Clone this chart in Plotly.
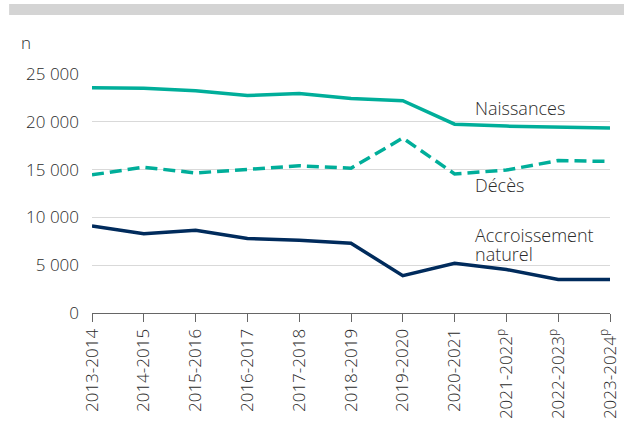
import plotly.graph_objects as go

periods = ["2013-2014", "2014-2015", "2015-2016", "2016-2017", "2017-2018",
           "2018-2019", "2019-2020", "2020-2021", "2021-2022<sup>p</sup>",
           "2022-2023<sup>p</sup>", "2023-2024<sup>p</sup>"]
naissances = [23550, 23500, 23250, 22750, 22950, 22450, 22200, 19750, 19550, 19450, 19350]
deces = [14450, 15250, 14650, 15000, 15400, 15150, 18300, 14550, 14950, 15950, 15850]
accroissement = [9100, 8300, 8650, 7800, 7600, 7300, 3900, 5200, 4550, 3500, 3500]

teal = "#00AE9A"
navy = "#002B5C"
font = "Open Sans"
text_color = "#2b2b2b"
fsize = 17

fig = go.Figure()
fig.add_trace(go.Scatter(x=periods, y=naissances, mode="lines",
                         line=dict(color=teal, width=3.5), name="Naissances"))
fig.add_trace(go.Scatter(x=periods, y=deces, mode="lines",
                         line=dict(color=teal, width=3.5, dash="12px,6px"), name="Décès"))
fig.add_trace(go.Scatter(x=periods, y=accroissement, mode="lines",
                         line=dict(color=navy, width=3.5), name="Accroissement naturel"))

# grey band at the top
fig.add_shape(type="rect", xref="paper", yref="paper",
              x0=-0.16, x1=1.03, y0=1.247, y1=1.293,
              fillcolor="#d4d4d4", line_width=0, layer="below")

fig.add_annotation(text="n", xref="paper", yref="paper", x=-0.128, y=1.13,
                   xanchor="center", yanchor="middle", showarrow=False,
                   font=dict(size=fsize, color=text_color, family=font, weight=300))

labels = [("Naissances", 0.7355, 0.858), ("Décès", 0.7355, 0.536),
          ("Accroissement", 0.7355, 0.326), ("naturel", 0.7355, 0.247)]
for txt, xp, yp in labels:
    fig.add_annotation(text=txt, xref="paper", yref="paper", x=xp, y=yp,
                       xanchor="left", yanchor="middle", showarrow=False, align="left",
                       font=dict(size=18, color=text_color, family=font, weight=300))

fig.update_layout(
    width=624, height=430,
    margin=dict(l=92, r=14, t=74, b=117, autoexpand=False),
    plot_bgcolor="white", paper_bgcolor="white",
    showlegend=False,
    font=dict(family=font, size=fsize, color=text_color, weight=300),
)
fig.update_xaxes(range=[0, 10], showgrid=False, showline=True, linecolor="#666666",
                 linewidth=1.2, ticks="outside", ticklen=8, tickcolor="#666666",
                 tickangle=-90, automargin=False,
                 tickfont=dict(size=fsize, color=text_color, weight=300),
                 zeroline=False)
fig.update_yaxes(range=[0, 25000], tickvals=[0, 5000, 10000, 15000, 20000, 25000],
                 ticktext=["0", "5 000", "10 000", "15 000", "20 000", "25 000"],
                 showgrid=True, gridcolor="#d9d9d9", gridwidth=1, zeroline=False,
                 showline=False, ticks="", ticklabelstandoff=12, automargin=False,
                 tickfont=dict(size=fsize, color=text_color, weight=300))

fig.write_html("out.html", config={"displayModeBar": False},
               post_script="document.body.style.margin='0';")
